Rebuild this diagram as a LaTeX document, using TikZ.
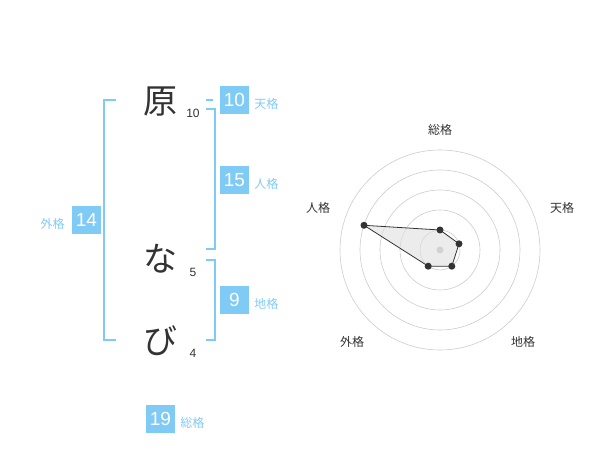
\documentclass[tikz,border=0pt]{standalone}
\usepackage{fontspec}
\usetikzlibrary{positioning,calc}
\setmainfont{Liberation Sans}
\newfontfamily\jpfont{Noto Sans CJK JP}
\definecolor{kakublue}{HTML}{80CBF5}
\definecolor{inkgray}{HTML}{333333}
\begin{document}
\begin{tikzpicture}[x=1pt, y=-1pt,
		numbox/.style={fill=kakublue, text=white, minimum width=29pt, minimum height=28pt, inner sep=0pt, font=\fontsize{19}{19}\selectfont},
		kakulabel/.style={text=kakublue, inner sep=0pt, yshift=-3.5pt, font=\jpfont\fontsize{12}{12}\selectfont},
		moji/.style={text=inkgray, font=\jpfont\fontsize{34}{34}\selectfont},
		kakusu/.style={text=inkgray, font=\fontsize{12}{12}\selectfont},
		axlabel/.style={text=inkgray, font=\jpfont\fontsize{12}{12}\selectfont},
		bracket/.style={draw=kakublue, line width=2pt},
		ring/.style={draw=black!20, line width=0.6pt},
		dot/.style={circle, fill=inkgray, inner sep=0pt, minimum size=7pt}]
	\useasboundingbox (0,0) rectangle (600,470);
	
	% 1. 名前の文字と画数
	\node[moji] (hara) at (160,102) {原};
	\node[moji] (na) at (160,259) {な};
	\node[moji] (bi) at (160,341) {び};
	\node[kakusu] (s1) at (193,113) {10};
	\node[kakusu] (s2) at (193,272) {5};
	\node[kakusu] (s3) at (193,353) {4};
	
	% 2. 括弧の線
	\draw[bracket] (116,100) -- (104,100) -- (104,340) -- (116,340);
	\draw[bracket] (206,100) -- (213,100);
	\draw[bracket] (206,109) -- (215,109) -- (215,249) -- (206,249);
	\draw[bracket] (206,260) -- (215,260) -- (215,340) -- (206,340);
	
	% 3. 五格の数字と名前
	\node[numbox] (ten) at (234.5,100) {10};
	\node[kakulabel, right=5pt of ten] (tenl) {天格};
	\node[numbox] (jin) at (234.5,180) {15};
	\node[kakulabel, right=5pt of jin] (jinl) {人格};
	\node[numbox] (chi) at (234.5,300) {9};
	\node[kakulabel, right=5pt of chi] (chil) {地格};
	\node[numbox] (gai) at (86.5,220) {14};
	\node[kakulabel, left=7pt of gai] (gail) {外格};
	\node[numbox] (sou) at (160.5,419) {19};
	\node[kakulabel, right=5pt of sou] (soul) {総格};
	
	% 4. レーダーチャート
	\coordinate (c) at (440,250);
	\foreach \r in {20,40,...,100}
		\draw[ring] (c) circle (\r);
	\fill[black!25] (c) circle (3.5);
	\node[axlabel] (ax1) at (440,130) {総格};
	\node[axlabel] (ax2) at (562,208) {天格};
	\node[axlabel] (ax3) at (523,342) {地格};
	\node[axlabel] (ax4) at (352,342) {外格};
	\node[axlabel] (ax5) at (318,208) {人格};
	
	\coordinate (p1) at ($(c)+(0,-20)$);
	\coordinate (p2) at ($(c)+(19,-6.2)$);
	\coordinate (p4) at ($(c)+(11.8,16.2)$);
	\coordinate (p3) at ($(c)+(-11.8,16.2)$);
	\coordinate (p5) at ($(c)+(-76,-24.7)$);
	\filldraw[fill=black!12, fill opacity=0.6, draw=inkgray, line width=0.8pt]
		(p1) -- (p2) -- (p4) -- (p3) -- (p5) -- cycle;
	\foreach \p in {p1,p2,p3,p4,p5}
		\node[dot] at (\p) {};
\end{tikzpicture}
\end{document}
